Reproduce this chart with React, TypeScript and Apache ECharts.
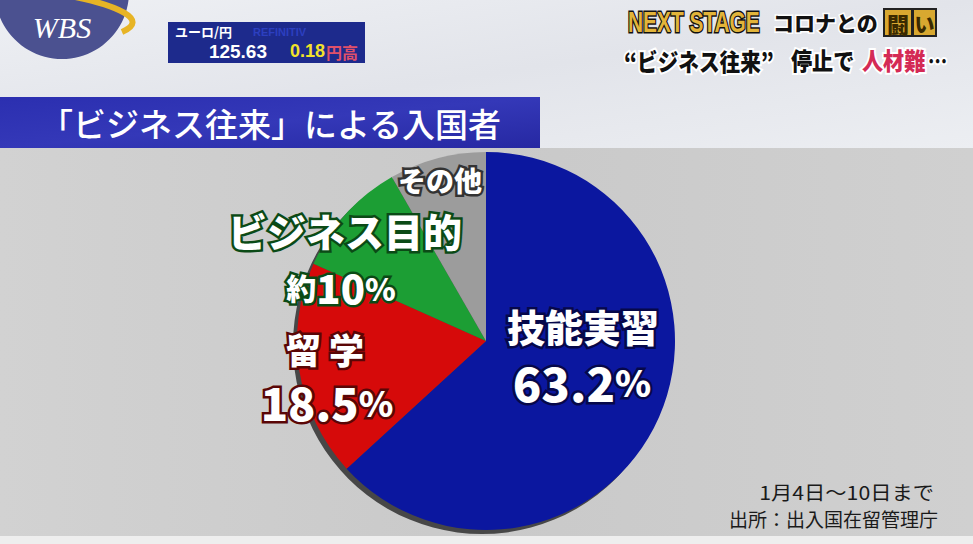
import React, { useEffect, useRef } from "react";
import * as echarts from "echarts";

const categories = ["技能実習", "留学", "ビジネス目的", "その他"];
const values = [63.2, 18.5, 10, 8.3];
const valuePrefix = ["", "", "約", ""];
const valueNumbers = ["63.2", "18.5", "10", ""];
const sliceColors = ["#0b179f", "#d60a0a", "#1c9e34", "#9c9c9c"];

const FONT = '"Noto Sans CJK JP", "Noto Sans", sans-serif';

export default function App() {
  const ref = useRef<HTMLDivElement>(null);
  useEffect(() => {
    document.body.style.margin = "0";
    const chart = echarts.init(ref.current!, null, { renderer: "svg" });

    const outlined = (
      text: string,
      x: number,
      y: number,
      size: number,
      stroke: string,
      extra: any = {}
    ) => ({
      type: "text",
      x,
      y,
      z: 50,
      style: {
        text,
        fontFamily: FONT,
        fontWeight: 900,
        fontSize: size,
        lineHeight: Math.round(size * 0.95),
        fill: "#ffffff",
        stroke,
        lineWidth: 5,
        align: "center",
        verticalAlign: "middle",
        ...extra,
      },
    });

    const valueText = (i: number, x: number, y: number, size: number, stroke: string) => {
      const part = (fs: number) => ({
        fontFamily: FONT,
        fontWeight: 900,
        fontSize: fs,
        lineHeight: Math.round(size * 0.9),
        fill: "#ffffff",
        stroke,
        lineWidth: 5,
      });
      const pre = valuePrefix[i] ? `{p|${valuePrefix[i]}}` : "";
      return outlined(`${pre}{n|${valueNumbers[i]}}{s|%}`, x, y, size, stroke, {
        lineHeight: Math.round(size * 0.9),
        rich: { p: part(size * 0.75), n: part(size), s: part(size * 0.78) },
      });
    };

    const condensed = (text: string, x: number, y: number, fill: string, sx = 0.84) => ({
      type: "text",
      z: 6,
      x,
      y,
      scaleX: sx,
      style: {
        text,
        fontFamily: FONT,
        fontWeight: 900,
        fontSize: 24,
        fill,
        stroke: "#fff",
        lineWidth: 4,
        verticalAlign: "middle",
      },
    });

    const option: any = {
      animation: false,
      backgroundColor: "#e9eaee",
      graphic: [
        {
          type: "rect",
          z: -10,
          shape: { x: 0, y: 148, width: 973, height: 388 },
          style: {
            fill: new echarts.graphic.LinearGradient(0, 0, 1, 0, [
              { offset: 0, color: "#d2d2d2" },
              { offset: 0.5, color: "#c9c9c9" },
              { offset: 1, color: "#d0d0d0" },
            ]),
          },
        },
        {
          type: "rect",
          z: -11,
          shape: { x: 0, y: 0, width: 973, height: 148 },
          style: {
            fill: new echarts.graphic.LinearGradient(0, 0, 1, 1, [
              { offset: 0, color: "#eef0f4" },
              { offset: 0.5, color: "#e2e4ea" },
              { offset: 1, color: "#eceef2" },
            ]),
          },
        },
        {
          type: "rect",
          z: 5,
          shape: { x: 0, y: 97, width: 540, height: 51 },
          style: {
            fill: new echarts.graphic.LinearGradient(0, 0, 1, 1, [
              { offset: 0, color: "#2b2fb0" },
              { offset: 0.5, color: "#3438b8" },
              { offset: 1, color: "#2628a2" },
            ]),
          },
        },
        {
          type: "text",
          z: 6,
          x: 40,
          y: 123,
          style: {
            text: "「ビジネス往来」による入国者",
            fontFamily: FONT,
            fontWeight: 500,
            fontSize: 33,
            fill: "#ffffff",
            verticalAlign: "middle",
          },
        },
        {
          type: "circle",
          z: 5,
          shape: { cx: 62, cy: -8, r: 67 },
          style: { fill: "#4b5190" },
        },
        {
          type: "bezierCurve",
          z: 6,
          shape: { x1: 60, y1: -6, cpx1: 120, cpy1: 5, cpx2: 150, cpy2: 20, x2: 122, y2: 32 },
          style: { stroke: "#e7b425", lineWidth: 6, fill: "none" },
        },
        {
          type: "text",
          z: 7,
          x: 62,
          y: 27,
          style: {
            text: "WBS",
            fontFamily: '"Liberation Serif", serif',
            fontStyle: "italic",
            fontSize: 30,
            fill: "#ffffff",
            align: "center",
            verticalAlign: "middle",
          },
        },
        {
          type: "rect",
          z: 5,
          shape: { x: 168, y: 22, width: 197, height: 41 },
          style: { fill: "#1d2a8c" },
        },
        {
          type: "text",
          z: 6,
          x: 175,
          y: 31,
          style: { text: "ユーロ/円", fontFamily: FONT, fontWeight: 700, fontSize: 13, fill: "#ffffff", verticalAlign: "middle" },
        },
        {
          type: "text",
          z: 6,
          x: 253,
          y: 32,
          style: { text: "REFINITIV", fontFamily: '"Liberation Sans", sans-serif', fontWeight: 700, fontSize: 11, fill: "#2c3fc0", verticalAlign: "middle" },
        },
        {
          type: "text",
          z: 6,
          x: 267,
          y: 51,
          style: { text: "125.63", fontFamily: '"Liberation Sans", sans-serif', fontWeight: 700, fontSize: 19, fill: "#ffffff", align: "right", verticalAlign: "middle" },
        },
        {
          type: "text",
          z: 6,
          x: 325,
          y: 51,
          style: { text: "0.18", fontFamily: '"Liberation Sans", sans-serif', fontWeight: 700, fontSize: 18, fill: "#f2e22a", align: "right", verticalAlign: "middle" },
        },
        {
          type: "text",
          z: 6,
          x: 326,
          y: 52,
          style: { text: "円高", fontFamily: FONT, fontWeight: 700, fontSize: 16, fill: "#e0506a", verticalAlign: "middle" },
        },
        {
          type: "text",
          z: 6,
          x: 628,
          y: 22,
          scaleX: 0.72,
          style: {
            text: "NEXT STAGE",
            fontFamily: '"Liberation Sans", sans-serif',
            fontWeight: 900,
            fontSize: 29,
            fill: "#e2b43a",
            stroke: "#111",
            lineWidth: 3,
            verticalAlign: "middle",
          },
        },
        {
          type: "text",
          z: 6,
          x: 773,
          y: 22,
          style: { text: "コロナとの", fontFamily: FONT, fontWeight: 900, fontSize: 21, fill: "#111", stroke: "#fff", lineWidth: 3, verticalAlign: "middle" },
        },
        {
          type: "rect",
          z: 6,
          shape: { x: 884, y: 9, width: 28, height: 27 },
          style: { fill: "#d8a830", stroke: "#222", lineWidth: 2 },
        },
        {
          type: "rect",
          z: 6,
          shape: { x: 913, y: 9, width: 23, height: 27 },
          style: { fill: "#d8a830", stroke: "#222", lineWidth: 2 },
        },
        {
          type: "text",
          z: 7,
          x: 898,
          y: 23,
          style: { text: "闘", fontFamily: FONT, fontWeight: 900, fontSize: 22, fill: "#3a2a00", align: "center", verticalAlign: "middle" },
        },
        {
          type: "text",
          z: 7,
          x: 924.5,
          y: 23,
          style: { text: "い", fontFamily: FONT, fontWeight: 900, fontSize: 20, fill: "#3a2a00", align: "center", verticalAlign: "middle" },
        },
        condensed("“ビジネス往来”", 624, 60, "#111", 0.86),
        condensed("停止で", 791, 60, "#111", 0.88),
        condensed("人材難", 862, 60, "#d42a55", 0.88),
        condensed("…", 928, 60, "#111", 0.8),
        outlined(categories[0], 583, 325, 38, "#06084a"),
        valueText(0, 582, 381, 47, "#06084a"),
        outlined(categories[1].split("").join(" "), 325, 348, 35, "#5a0606"),
        valueText(1, 327, 401, 45, "#5a0606"),
        outlined(categories[2], 345, 230, 39, "#0b4a16"),
        valueText(2, 341, 287, 40, "#0b4a16"),
        outlined(categories[3], 440, 180, 28, "#333333"),
        {
          type: "text",
          z: 6,
          x: 934,
          y: 492,
          scaleX: 1.12,
          style: { text: "1月4日〜10日まで", fontFamily: FONT, fontSize: 19, lineHeight: 20, fill: "#1a1a1a", align: "right", verticalAlign: "middle" },
        },
        {
          type: "text",
          z: 6,
          x: 938,
          y: 518,
          style: { text: "出所：出入国在留管理庁", fontFamily: FONT, fontSize: 19, lineHeight: 20, fill: "#1a1a1a", align: "right", verticalAlign: "middle" },
        },
        {
          type: "rect",
          z: -9,
          shape: { x: 0, y: 536, width: 973, height: 8 },
          style: { fill: "#eeeeee" },
        },
      ],
      series: [
        {
          type: "pie",
          silent: true,
          z: 1,
          center: [482, 345],
          radius: 189,
          startAngle: 90,
          clockwise: true,
          label: { show: false },
          labelLine: { show: false },
          data: [{ value: 1, itemStyle: { color: "#474747" } }],
        },
        {
          type: "pie",
          z: 2,
          center: [486, 341],
          radius: 189,
          startAngle: 90,
          clockwise: true,
          label: { show: false },
          labelLine: { show: false },
          itemStyle: { borderWidth: 0 },
          data: categories.map((c, i) => ({
            name: c,
            value: values[i],
            itemStyle: { color: sliceColors[i] },
          })),
        },
      ],
    };
    chart.setOption(option);
    return () => chart.dispose();
  }, []);
  return <div ref={ref} style={{ width: 973, height: 544 }} />;
}
